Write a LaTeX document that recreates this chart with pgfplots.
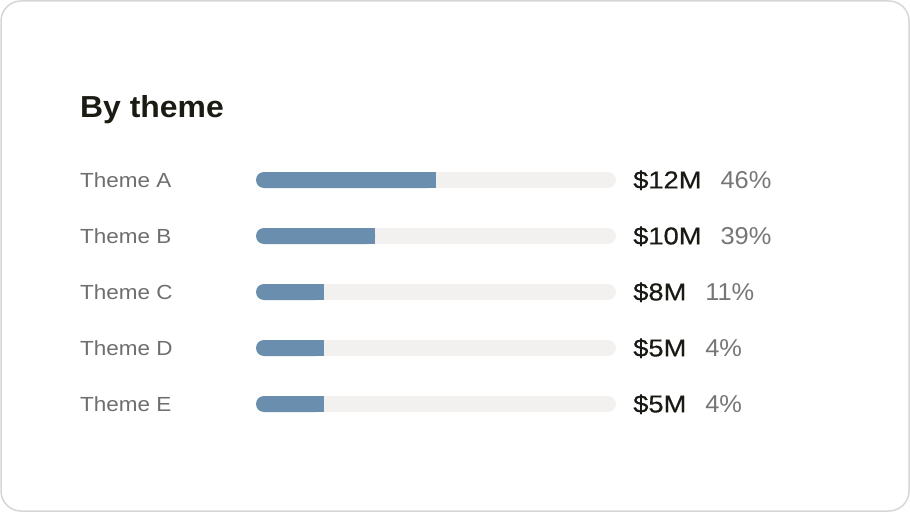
\documentclass[border=0pt]{standalone}
\usepackage{pgfplots}
\pgfplotsset{compat=1.18}
\usepackage{fontspec}
\setmainfont{Liberation Sans}
\newfontfamily\labfont[FakeStretch=1.1]{Liberation Sans}
\newfontfamily\valfont[FakeStretch=1.12,FakeBold=0.5]{Liberation Sans}
\newfontfamily\pctfont[FakeStretch=1.04]{Liberation Sans}
\newfontfamily\titfont[FakeStretch=1.05]{Liberation Sans}
\definecolor{barfill}{HTML}{6A8EAE}
\definecolor{track}{HTML}{F2F1EF}
\definecolor{labcol}{HTML}{6E6E6E}
\definecolor{valcol}{HTML}{1A1A15}
\definecolor{pctcol}{HTML}{767676}
\definecolor{titlecol}{HTML}{1B1B14}
\definecolor{cardborder}{HTML}{D6D6D6}
\newcommand{\lab}{\labfont\fontsize{20.5}{20.5}\selectfont\color{labcol}}
\newcommand{\val}[2]{{\valfont\fontsize{24.5}{24.5}\selectfont\color{valcol}\$#1}\hspace{19bp}{\pctfont\fontsize{24.5}{24.5}\selectfont\color{pctcol}#2\%}}
\begin{document}
\begin{tikzpicture}
\path[use as bounding box] (0bp,0bp) rectangle (910bp,512bp);
\draw[cardborder, line width=1.5bp, rounded corners=20bp] (1bp,1bp) rectangle (909bp,511bp);
\node[anchor=base west, inner sep=0pt, text=titlecol, font=\titfont\bfseries\fontsize{30.5}{30.5}\selectfont] at (80bp,394bp) {By theme};
\begin{axis}[at={(256bp,108bp)}, anchor=south west, scale only axis,
  width=360bp, height=224bp, xmin=0, xmax=1, ymin=0, ymax=4,
  y dir=reverse, hide axis, clip=false, xbar, bar width=16bp]
% track (full scale)
\addplot[fill=track, draw=none, rounded corners=8bp, bar shift=0pt]
  coordinates {(1,0) (1,1) (1,2) (1,3) (1,4)};
% filled share
\addplot[fill=barfill, draw=none, rounded corners=8bp, bar shift=0pt]
  coordinates {(0.500,0) (0.331,1) (0.189,2) (0.189,3) (0.189,4)};
% square right end of the filled share
\addplot[sharp plot, barfill, line width=16bp, line cap=butt, unbounded coords=jump, forget plot]
  coordinates {(0.05,0) (0.500,0) (nan,nan) (0.05,1) (0.331,1) (nan,nan)
               (0.05,2) (0.189,2) (nan,nan) (0.05,3) (0.189,3) (nan,nan)
               (0.05,4) (0.189,4)};
% row labels
\node[anchor=base west, inner sep=0pt] at (axis cs:-0.4889,0.13) {\lab Theme A};
\node[anchor=base west, inner sep=0pt] at (axis cs:-0.4889,1.13) {\lab Theme B};
\node[anchor=base west, inner sep=0pt] at (axis cs:-0.4889,2.13) {\lab Theme C};
\node[anchor=base west, inner sep=0pt] at (axis cs:-0.4889,3.13) {\lab Theme D};
\node[anchor=base west, inner sep=0pt] at (axis cs:-0.4889,4.13) {\lab Theme E};
% values and shares
\node[anchor=base west, inner sep=0pt] at (axis cs:1.0472,0.15) {\val{12M}{46}};
\node[anchor=base west, inner sep=0pt] at (axis cs:1.0472,1.15) {\val{10M}{39}};
\node[anchor=base west, inner sep=0pt] at (axis cs:1.0472,2.15) {\val{8M}{11}};
\node[anchor=base west, inner sep=0pt] at (axis cs:1.0472,3.15) {\val{5M}{4}};
\node[anchor=base west, inner sep=0pt] at (axis cs:1.0472,4.15) {\val{5M}{4}};
\end{axis}
\end{tikzpicture}
\end{document}
